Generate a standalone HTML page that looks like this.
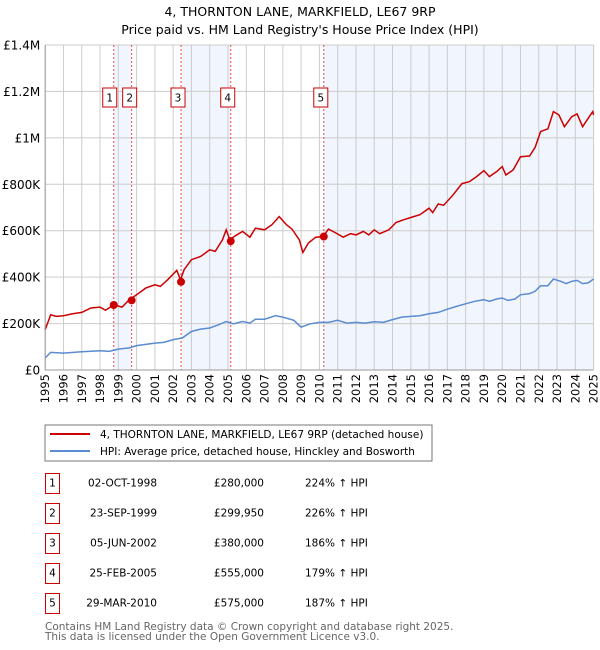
<!DOCTYPE html>
<html><head><meta charset="utf-8"><style>
body{margin:0;background:#fff;font-family:"DejaVu Sans","Liberation Sans",sans-serif;}
#wrap{position:relative;width:600px;height:650px;overflow:hidden}
</style></head><body><div id="wrap">
<svg id="chart" width="600" height="650" xmlns="http://www.w3.org/2000/svg" font-family="DejaVu Sans, Liberation Sans, sans-serif">
<text x="300" y="16" text-anchor="middle" font-size="12.5" fill="#000">4, THORNTON LANE, MARKFIELD, LE67 9RP</text>
<text x="300" y="34" text-anchor="middle" font-size="12.5" fill="#000">Price paid vs. HM Land Registry's House Price Index (HPI)</text>
<g id="shade"></g><g id="grid"></g><g id="vlines"></g><g id="lines"></g><g id="pts"></g><g id="axes"></g>
<rect x="45" y="425" width="387" height="36" fill="#fff" stroke="#777"/>
<line x1="50" y1="434" x2="90" y2="434" stroke="#cc0000" stroke-width="2"/>
<text x="100" y="438" font-size="10.5">4, THORNTON LANE, MARKFIELD, LE67 9RP (detached house)</text>
<line x1="50" y1="451" x2="90" y2="451" stroke="#5b8bd0" stroke-width="2"/>
<text x="100" y="455" font-size="10.5">HPI: Average price, detached house, Hinckley and Bosworth</text>
<g id="table" font-size="10.5"></g>
<text x="45" y="630" font-size="10.5" fill="#666">Contains HM Land Registry data © Crown copyright and database right 2025.</text>
<text x="45" y="640" font-size="10.5" fill="#666">This data is licensed under the Open Government Licence v3.0.</text>
</svg></div>
<script>
const redYears=[1995.0,1995.3,1995.6,1996,1996.5,1997,1997.5,1998,1998.3,1998.75,1999.2,1999.6,2000,2000.5,2001,2001.3,2001.7,2002.2,2002.4,2002.6,2003,2003.5,2004,2004.3,2004.7,2004.9,2005.1,2005.4,2005.8,2006.2,2006.5,2007,2007.4,2007.8,2008.2,2008.5,2008.9,2009.1,2009.4,2009.8,2010.2,2010.5,2010.9,2011.3,2011.7,2012,2012.4,2012.7,2013,2013.3,2013.8,2014.2,2014.6,2015,2015.5,2016,2016.2,2016.5,2016.8,2017.3,2017.8,2018.2,2018.6,2019,2019.3,2019.7,2020,2020.2,2020.6,2021,2021.5,2021.8,2022.1,2022.5,2022.8,2023.1,2023.4,2023.8,2024.1,2024.4,2024.7,2024.95,2025];
const redValues=[174,238,231,234,242,248,267,271,257,281,271,303,324,353,367,360,389,429,389,432,475,489,518,511,561,604,561,578,597,572,611,604,626,661,626,607,561,506,547,572,575,607,590,572,587,582,597,582,604,587,604,636,647,657,669,697,678,715,710,753,803,811,833,859,833,855,876,840,862,919,922,959,1027,1039,1113,1099,1048,1091,1103,1048,1084,1113,1099];
const hpiYears=[1995.0,1995.3,1996,1997,1998,1998.5,1999,1999.6,2000,2001,2001.5,2002,2002.5,2003,2003.5,2004,2004.5,2004.9,2005.3,2005.8,2006.2,2006.5,2007,2007.6,2008,2008.6,2009,2009.5,2010,2010.5,2011,2011.5,2012,2012.5,2013,2013.5,2014,2014.5,2015,2015.5,2016,2016.5,2017,2017.5,2018,2018.5,2019,2019.3,2019.7,2020,2020.3,2020.7,2021,2021.5,2021.8,2022.1,2022.5,2022.8,2023.2,2023.5,2023.8,2024.1,2024.4,2024.7,2025];
const hpiValues=[52,76,73,79,83,80,90,95,105,116,119,131,138,166,176,181,195,209,199,209,202,219,219,234,228,214,185,199,205,205,214,202,205,202,208,205,217,228,231,234,242,248,262,274,285,296,303,296,306,310,300,306,324,329,339,363,363,392,382,372,382,386,372,375,392];
const saleYears=[1998.75,1999.73,2002.43,2005.15,2010.24];
const saleValues=[280,300,380,555,575];
const saleLabels=["1","2","3","4","5"];
const saleDates=["02-OCT-1998","23-SEP-1999","05-JUN-2002","25-FEB-2005","29-MAR-2010"];
const salePrices=["£280,000","£299,950","£380,000","£555,000","£575,000"];
const saleHpi=["224% ↑ HPI","226% ↑ HPI","186% ↑ HPI","179% ↑ HPI","187% ↑ HPI"];
const yTicks=[0,200,400,600,800,1000,1200,1400];
const yTickLabels=["£0","£200K","£400K","£600K","£800K","£1M","£1.2M","£1.4M"];
const X0=45.2,X1=593.6,Y0=370,Y1=45;
const xs=y=>X0+(y-1995)/30*(X1-X0);
const ys=v=>Y0-v/1400*(Y0-Y1);
const NS="http://www.w3.org/2000/svg";
function mk(tag,attrs,parent){const e=document.createElementNS(NS,tag);for(const k in attrs)e.setAttribute(k,attrs[k]);parent.appendChild(e);return e;}
const shade=document.getElementById('shade'),grid=document.getElementById('grid'),vl=document.getElementById('vlines'),lines=document.getElementById('lines'),pts=document.getElementById('pts'),axes=document.getElementById('axes'),table=document.getElementById('table');
// shaded intervals: 1-2, 3-4, 5-end
[[0,1],[2,3],[4,null]].forEach(p=>{const a=xs(saleYears[p[0]]),b=p[1]===null?X1:xs(saleYears[p[1]]);
const r=mk('rect',{x:a,y:Y1,width:b-a,height:Y0-Y1,fill:'#eef3fc',opacity:0.8},shade);

});
for(let yr=1995;yr<=2025;yr++){const x=xs(yr);
const l=mk('line',{x1:x,y1:Y1,x2:x,y2:Y0,stroke:'#cccccc','stroke-width':1},grid);


const t=mk('text',{x:0,y:0,transform:`translate(${x+4},${Y0+4}) rotate(-90)`,'text-anchor':'end','font-size':11.5},axes);
t.textContent=yr;

}
yTicks.forEach((v,i)=>{const y=ys(v);
const l=mk('line',{x1:X0,y1:y,x2:X1,y2:y,stroke:'#cccccc','stroke-width':1},grid);


const t=mk('text',{x:X0-5,y:y+4.5,'text-anchor':'end','font-size':12},axes);
t.textContent=yTickLabels[i];

});
const ax=mk('path',{d:`M${X0},${Y1}V${Y0}H${X1}`,fill:'none',stroke:'#999'},axes);


function path(xa,va){return xa.map((y,i)=>(i?'L':'M')+xs(y).toFixed(1)+','+ys(va[i]).toFixed(1)).join('');}
const hp=mk('path',{d:path(hpiYears,hpiValues),fill:'none',stroke:'#5b8bd0','stroke-width':1.5},lines);


const rp=mk('path',{d:path(redYears,redValues),fill:'none',stroke:'#cc0000','stroke-width':1.5},lines);


saleYears.forEach((yr,i)=>{const x=xs(yr);
const l=mk('line',{x1:x,y1:Y1,x2:x,y2:Y0,stroke:'#ee4444','stroke-width':1,'stroke-dasharray':'2,2'},vl);


const c=mk('circle',{cx:x,cy:ys(saleValues[i]),r:4,fill:'#cc0000'},pts);


const bx=(i===0?x-4:(i===1?x-2:x-3));
const g=mk('g',{},pts);


mk('rect',{x:bx-7,y:88,width:14,height:19,fill:'#fff',stroke:'#cc0000'},g);
const t=mk('text',{x:bx,y:101.5,'text-anchor':'middle','font-size':10.5},g);t.textContent=saleLabels[i];
const cy=483+i*30;
const tg=mk('g',{},table);


mk('rect',{x:45.5,y:cy-9.5,width:14,height:20,fill:'#fff',stroke:'#cc0000'},tg);
const n=mk('text',{x:52.5,y:cy+3.5,'text-anchor':'middle'},tg);n.textContent=saleLabels[i];
const d=mk('text',{x:157,y:cy+3.5,'text-anchor':'end'},tg);d.textContent=saleDates[i];
const p=mk('text',{x:264,y:cy+3.5,'text-anchor':'end'},tg);p.textContent=salePrices[i];
const h=mk('text',{x:305,y:cy+3.5},tg);h.textContent=saleHpi[i];});
</script></body></html>
